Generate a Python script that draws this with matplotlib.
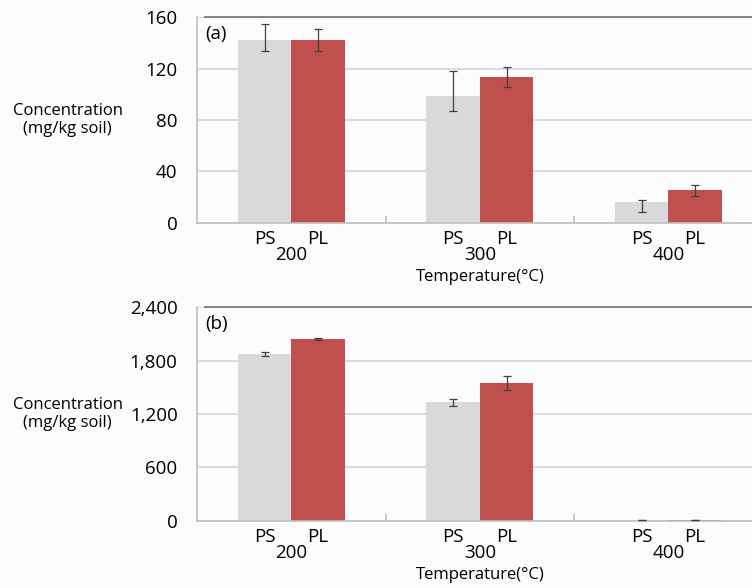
import numpy as np
import matplotlib.pyplot as plt

plt.rcParams['font.family'] = ['Open Sans', 'DejaVu Sans']

temps = ['200', '300', '400']
# panel (a)
ps_a = [142, 99, 16]
ps_a_err = [[8.5, 12, 8], [12.5, 19, 2]]
pl_a = [142, 113.5, 25.2]
pl_a_err = [[8.5, 8, 4.3], [8.5, 8, 4.3]]
# panel (b)
ps_b = [1872, 1332, 5]
ps_b_err = [25, 37, 0]
pl_b = [2044, 1549, 12]
pl_b_err = [10, 82, 0]

ps_color = '#d9d8da'
pl_color = '#c0504d'

fig = plt.figure(figsize=(7.52, 5.88), dpi=100, facecolor='#fcfcfe')

w = 0.284
x = np.arange(len(temps))


def panel(rect, ps, ps_err, pl, pl_err, ymax, step, tag, fmt):
    ax = fig.add_axes(rect)
    ax.set_facecolor('#fcfcfe')
    ax.bar(x - w / 2, ps, w, color=ps_color, zorder=2)
    ax.bar(x + w / 2, pl, w, color=pl_color, zorder=2)
    ax.errorbar(x - w / 2, ps, yerr=ps_err, fmt='none', ecolor='#404040',
                elinewidth=0.9, capsize=3, capthick=0.9, zorder=3)
    ax.errorbar(x + w / 2, pl, yerr=pl_err, fmt='none', ecolor='#404040',
                elinewidth=0.9, capsize=3, capthick=0.9, zorder=3)
    ax.set_xlim(-0.5, 2.444)
    ax.set_ylim(0, ymax)
    yt = np.arange(0, ymax + 1, step)
    ax.set_yticks(yt)
    ax.set_yticklabels([fmt(v) for v in yt], fontsize=13.5)
    ax.tick_params(axis='y', length=0, pad=14)
    ax.yaxis.grid(True, color='#d4d4d6', linewidth=1.2, zorder=0)
    ax.set_axisbelow(True)

    pos = np.concatenate([x - w / 2, x + w / 2])
    ax.set_xticks(pos)
    ax.set_xticklabels(['PS'] * 3 + ['PL'] * 3, fontsize=13.5)
    ax.tick_params(axis='x', length=0, pad=5)
    ax.set_xticks([0.5, 1.5], minor=True)
    ax.tick_params(axis='x', which='minor', direction='in', length=5,
                   color='#bfbfbf', width=1.2)
    for i, t in enumerate(temps):
        ax.annotate(t, xy=(x[i], 0), xycoords=('data', 'axes fraction'),
                    xytext=(0, -23.5), textcoords='offset points',
                    ha='center', va='center', fontsize=13.5)
    ax.annotate('Temperature(°C)', xy=(1, 0), xycoords=('data', 'axes fraction'),
                xytext=(0, -39), textcoords='offset points',
                ha='center', va='center', fontsize=12)

    for s in ['left', 'bottom']:
        ax.spines[s].set_color('#bfbfbf')
        ax.spines[s].set_linewidth(1.2)
    ax.spines['right'].set_visible(False)
    ax.spines['top'].set_color('#707070')
    ax.spines['top'].set_linewidth(1.2)
    ax.spines['top'].set_bounds(-0.458, 2.444)

    ax.text(0.015, 0.92, tag, transform=ax.transAxes, fontsize=13.5,
            ha='left', va='center')
    ax.set_ylabel('Concentration\n(mg/kg soil)', rotation=0, fontsize=12,
                  ha='center', va='center', linespacing=1.2)
    ax.yaxis.set_label_coords(-0.233, 0.5)
    return ax


panel([0.262, 0.6213, 0.738, 0.3493], ps_a, ps_a_err, pl_a, pl_a_err,
      160, 40, '(a)', lambda v: f'{int(v)}')
panel([0.262, 0.1145, 0.738, 0.363], ps_b, ps_b_err, pl_b, pl_b_err,
      2400, 600, '(b)', lambda v: f'{int(v):,}')

fig.savefig('out.png', dpi=100, facecolor=fig.get_facecolor())
